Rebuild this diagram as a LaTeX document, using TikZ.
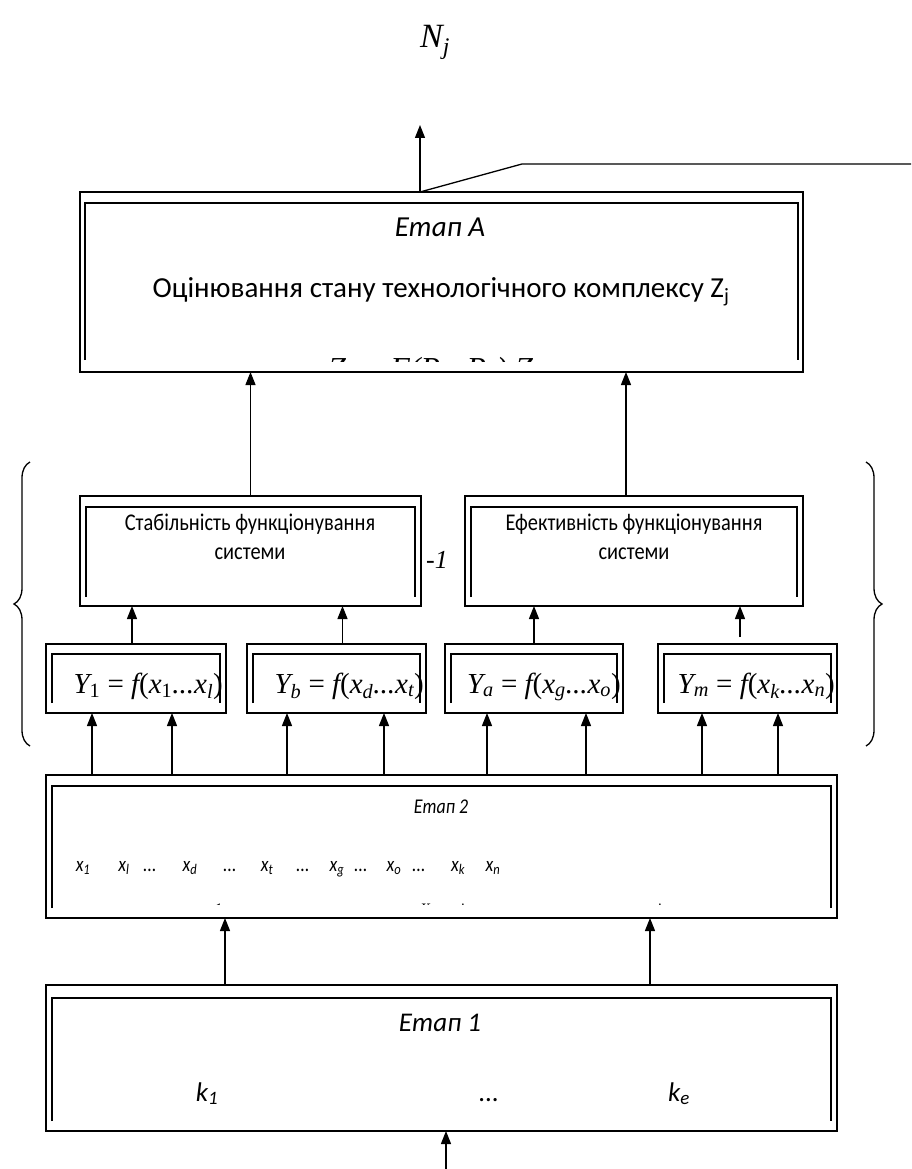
\documentclass[tikz,border=0pt]{standalone}
\usepackage{fontspec}
\usepackage{graphicx}
\setmainfont{Carlito}
\newfontfamily\tms{Liberation Serif}
\usetikzlibrary{arrows.meta,decorations.pathreplacing}
\newcommand\innerfr[4]{\draw[ifr] ([xshift=#2,yshift=#4]#1.south west) |- ([yshift=-#3]#1.north) -| ([xshift=-#2,yshift=#4]#1.south east);}
\newcommand\cond[1]{\scalebox{0.85}[1]{#1}}
\newcommand\sbs[1]{\textsubscript{#1}}
\newcommand\ddd{...}
\begin{document}
\begin{tikzpicture}[x=1pt,y=-1pt,
  obox/.style={draw, line width=1.3pt, inner sep=0pt, outer sep=0pt},
  ifr/.style={line width=1.8pt},
  arr/.style={line width=1.3pt, -{Triangle[length=13pt,width=10pt]}},
  ln/.style={line width=1.3pt},
  brc/.style={line width=1.3pt, decorate, decoration={brace, amplitude=16pt}},
  yf/.style={font=\tms\fontsize{29}{34}\selectfont, anchor=base east, inner sep=0pt}
]
\useasboundingbox (0,0) rectangle (911,1169);
% boxes
\node[obox, minimum width=723pt, minimum height=180pt] (A) at (441.5,282) {};
\node[obox, minimum width=341pt, minimum height=110pt] (M1) at (250.5,551) {};
\node[obox, minimum width=338pt, minimum height=110pt] (M2) at (634,551) {};
\node[obox, minimum width=180pt, minimum height=69pt] (Y1) at (136,678.5) {};
\node[obox, minimum width=179pt, minimum height=69pt] (Yb) at (336.5,678.5) {};
\node[obox, minimum width=178pt, minimum height=69pt] (Ya) at (534,678.5) {};
\node[obox, minimum width=179pt, minimum height=69pt] (Ym) at (747.5,678.5) {};
\node[obox, minimum width=791pt, minimum height=143pt] (E2) at (441.5,846.5) {};
\node[obox, minimum width=791pt, minimum height=146pt] (E1) at (441.5,1058) {};
\innerfr{A}{5pt}{11pt}{12pt}
\innerfr{M1}{6pt}{11pt}{9pt}
\innerfr{M2}{6pt}{11pt}{9pt}
\innerfr{Y1}{6pt}{10pt}{10pt}
\innerfr{Yb}{6pt}{10pt}{10pt}
\innerfr{Ya}{6pt}{10pt}{10pt}
\innerfr{Ym}{6pt}{10pt}{10pt}
\innerfr{E2}{6pt}{11pt}{10pt}
\innerfr{E1}{6pt}{13pt}{10pt}
% top output
\node[font=\tms\fontsize{34}{40}\selectfont\itshape] (Nj) at (435,42) {N\sbs{j}};
\coordinate (out) at (420,125);
\coordinate (sl) at (522,164);
\coordinate (sr) at (911,164);
\draw[arr] (out |- A.north) -- (out);
\draw[ln] (out |- A.north) -- (sl) -- (sr);
% texts in A
\node[font=\fontsize{29}{34}\selectfont\itshape] (tA) at (440,227) {Етап А};
\node[font=\fontsize{29}{34}\selectfont] (tA2) at (441,292) {Оцінювання стану технологічного комплексу Z\sbs{j}};
\begin{scope}
\clip (84,203) rectangle (797,361);
\node[anchor=base west, font=\tms\fontsize{32}{36}\selectfont\itshape, inner sep=0pt] (fz) at (328,379) {Z\sbs{j} = F(P\sbs{c}, P\sbs{e}) Z\sbs{j-1}};
\end{scope}
% middle texts
\node[font=\fontsize{24}{28}\selectfont] (m1a) at (250,524) {\cond{Стабільність функціонування}};
\node[font=\fontsize{24}{28}\selectfont] (m1b) at (250,554) {\cond{системи}};
\node[font=\fontsize{24}{28}\selectfont] (m2a) at (634,524) {\cond{Ефективність функціонування}};
\node[font=\fontsize{24}{28}\selectfont] (m2b) at (634,554) {\cond{системи}};
\node[font=\tms\fontsize{26}{30}\selectfont\itshape] (m1) at (437,560) {-1};
% arrows A
\draw[arr] (M1.north) -- (M1.north |- A.south);
\draw[arr] ([xshift=-8pt]M2.north) -- ([xshift=-8pt]M2.north |- A.south);
% Y formulas
\node[yf] (fy1) at (223,693) {\itshape Y\sbs{\upshape 1} \upshape= \itshape f\upshape(\itshape x\sbs{\upshape 1}\ddd x\sbs{l}\upshape)};
\node[yf] (fyb) at (424,693) {\itshape Y\sbs{b} \upshape= \itshape f\upshape(\itshape x\sbs{d}\ddd x\sbs{t}\upshape)};
\node[yf] (fya) at (621,693) {\itshape Y\sbs{a} \upshape= \itshape f\upshape(\itshape x\sbs{g}\ddd x\sbs{o}\upshape)};
\node[yf] (fym) at (835,693) {\itshape Y\sbs{m} \upshape= \itshape f\upshape(\itshape x\sbs{k}\ddd x\sbs{n}\upshape)};
% arrows Y -> M
\draw[arr] ([xshift=-4pt]Y1.north) -- ([xshift=-4pt]Y1.north |- M1.south);
\draw[arr] ([xshift=6pt]Yb.north) -- ([xshift=6pt]Yb.north |- M1.south);
\draw[arr] (Ya.north) -- (Ya.north |- M2.south);
\draw[arr] ([xshift=-7.5pt,yshift=7pt]Ym.north) -- ([xshift=-7.5pt]Ym.north |- M2.south);
% arrows E2 -> Y
\draw[arr] ([xshift=-44pt]Y1.south |- E2.north) -- ([xshift=-44pt]Y1.south);
\draw[arr] ([xshift=36pt]Y1.south |- E2.north) -- ([xshift=36pt]Y1.south);
\draw[arr] ([xshift=-49.5pt]Yb.south |- E2.north) -- ([xshift=-49.5pt]Yb.south);
\draw[arr] ([xshift=47.5pt]Yb.south |- E2.north) -- ([xshift=47.5pt]Yb.south);
\draw[arr] ([xshift=-47pt]Ya.south |- E2.north) -- ([xshift=-47pt]Ya.south);
\draw[arr] ([xshift=52pt]Ya.south |- E2.north) -- ([xshift=52pt]Ya.south);
\draw[arr] ([xshift=-45.5pt]Ym.south |- E2.north) -- ([xshift=-45.5pt]Ym.south);
\draw[arr] ([xshift=30.5pt]Ym.south |- E2.north) -- ([xshift=30.5pt]Ym.south);
% braces
\draw[brc] (30,746) -- (30,462);
\draw[brc] (866,462) -- (866,746);
% E2 texts
\node[font=\fontsize{21}{25}\selectfont\itshape] (t2) at (441,807) {\cond{Етап 2}};
\foreach \t/\x [count=\i] in {x\sbs{1}/83, x\sbs{l}/124, \ddd/150, x\sbs{d}/190, \ddd/230, x\sbs{t}/267, \ddd/303, x\sbs{g}/337, \ddd/361, x\sbs{o}/394, \ddd/419, x\sbs{k}/458, x\sbs{n}/493}
  \node[anchor=base, inner sep=0pt, font=\fontsize{21}{25}\selectfont\itshape] (xl\i) at (\x,871) {\cond{\t}};
\begin{scope}
\clip (52,880) rectangle (831,904);
\foreach \t/\x [count=\i] in {1/218, X/425, i/462, i/659}
  \node[anchor=base, font=\tms\fontsize{16}{19}\selectfont\itshape, inner sep=0pt] (cl\i) at (\x,914) {\t};
\end{scope}
% arrows E1 -> E2
\draw[arr] ([xshift=-216.5pt]E1.north) -- ([xshift=-216.5pt]E1.north |- E2.south);
\draw[arr] ([xshift=208.5pt]E1.north) -- ([xshift=208.5pt]E1.north |- E2.south);
% E1 texts
\node[font=\fontsize{27}{32}\selectfont\itshape] (t1) at (440,1023) {Етап 1};
\node[anchor=base, inner sep=0pt, font=\fontsize{27}{32}\selectfont\itshape] (k1) at (207,1101) {k\sbs{1}};
\node[anchor=base, inner sep=0pt, font=\fontsize{27}{32}\selectfont\itshape] (kd) at (489,1101) {\ddd};
\node[anchor=base, inner sep=0pt, font=\fontsize{27}{32}\selectfont\itshape] (ke) at (679,1101) {k\sbs{e}};
% input
\coordinate (in) at (446,1169);
\draw[arr] (in) -- (in |- E1.south);
\end{tikzpicture}
\end{document}
